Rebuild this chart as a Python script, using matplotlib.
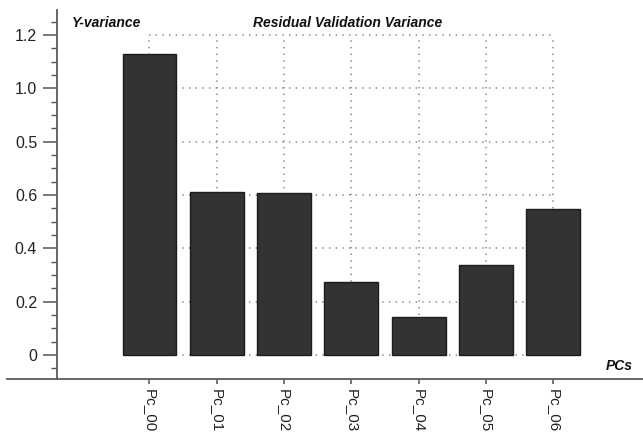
import matplotlib
matplotlib.use("Agg")
import matplotlib.pyplot as plt
from matplotlib.ticker import MultipleLocator

plt.rcParams['font.family'] = ['Liberation Sans', 'DejaVu Sans']

pcs = ["Pc_00", "Pc_01", "Pc_02", "Pc_03", "Pc_04", "Pc_05", "Pc_06"]
variance = [1.13, 0.611, 0.609, 0.274, 0.142, 0.336, 0.549]
y_ticks = [0, 0.2, 0.4, 0.6, 0.8, 1.0, 1.2]
y_tick_labels = ["0", "0.2", "0.4", "0.6", "0.5", "1.0", "1.2"]

W, H = 643, 433
fig = plt.figure(figsize=(W / 100, H / 100), dpi=100)
ax = fig.add_axes([7 / W, (H - 379) / H, 636 / W, 369 / H])

x = list(range(len(pcs)))

# dotted grid box, only over the category span
dots = (0, (0.8, 3.2))
ax.hlines(y_ticks, x[0], x[-1], colors="#8a8a8a", linestyles=dots, lw=1.2, zorder=1)
ax.vlines(x, 0, y_ticks[-1], colors="#8a8a8a", linestyles=dots, lw=1.2, zorder=1)

ax.bar(x, variance, width=0.8, color="#333333", edgecolor="#1c1c1c", lw=1.0, zorder=3)

ax.set_xlim(-2.117, 7.333)
ax.set_ylim(-0.09, 1.294)

for s in ["top", "right"]:
    ax.spines[s].set_visible(False)
ax.spines["left"].set_position(("data", -1.37))
for s in ["left", "bottom"]:
    ax.spines[s].set_color("#5a5a5a")
    ax.spines[s].set_linewidth(1.3)

ax.set_yticks(y_ticks)
ax.set_yticklabels(y_tick_labels)
ax.yaxis.set_minor_locator(MultipleLocator(0.05))
ax.tick_params(axis="y", which="major", length=10, width=1.1, color="#555555",
               pad=4.5, labelsize=11.5, labelcolor="#222222")
ax.tick_params(axis="y", which="minor", length=4, width=1.0, color="#555555")

ax.set_xticks(x)
ax.set_xticklabels(pcs, rotation=270)
ax.tick_params(axis="x", length=3.5, width=1.1, color="#555555", pad=4,
               labelsize=11, labelcolor="#222222")

fig.text(72 / W, 1 - 23 / H, "Y-variance", fontsize=10, fontweight="bold",
         fontstyle="italic", va="center", ha="left", color="#111111")
fig.text(253 / W, 1 - 23 / H, "Residual Validation Variance", fontsize=10,
         fontweight="bold", fontstyle="italic", va="center", ha="left", color="#111111")
fig.text(633 / W, 1 - 366 / H, "PCs", fontsize=10, fontweight="bold",
         fontstyle="italic", va="center", ha="right", color="#111111")

fig.savefig("out.png", dpi=100)
